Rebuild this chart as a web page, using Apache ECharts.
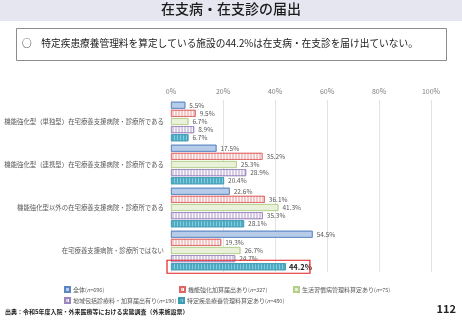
<!DOCTYPE html>
<html>
<head>
<meta charset="utf-8">
<script src="https://cdn.jsdelivr.net/npm/echarts@6/dist/echarts.min.js"></script>
<style>
  html, body { margin: 0; padding: 0; background: #fff; }
  #chart { width: 462px; height: 320px; }
</style>
</head>
<body>
<div id="chart"></div>
<script>
// カテゴリ（上から順）
const categories = [
  '機能強化型（単独型）在宅療養支援病院・診療所である',
  '機能強化型（連携型）在宅療養支援病院・診療所である',
  '機能強化型以外の在宅療養支援病院・診療所である',
  '在宅療養支援病院・診療所ではない'
]
const seriesNames = ['全体', '機能強化加算届出あり', '生活習慣病管理料算定あり', '地域包括診療料・加算届出有り', '特定疾患療養管理料算定あり']
const seriesN = [696, 327, 75, 190, 480]
const zentai = [5.5, 17.5, 22.6, 54.5]
const kinouKyouka = [9.5, 35.2, 36.1, 19.3]
const seikatsu = [6.7, 25.3, 41.3, 26.7]
const chiiki = [8.9, 28.9, 35.3, 24.7]
const tokutei = [6.7, 20.4, 28.1, 44.2]
const xTicks = [0, 20, 40, 60, 80, 100]

const fontFamily = '"Noto Sans CJK JP", sans-serif'
const chart = echarts.init(document.getElementById('chart'))

const fills = ['#9dbbe0', '#f4c9c9', '#e2ecce', '#d6cce4', '#4bacc6']
const borders = ['#5b87c4', '#e06666', '#b5cf8a', '#9a86bd', '#3f9ab3']
const decals = [
  { symbol: 'circle', symbolSize: 0.7, dashArrayX: [2, 0], dashArrayY: [2, 0], color: 'rgba(255,255,255,0.7)' },
  { symbol: 'rect', dashArrayX: [[1, 2]], dashArrayY: [10, 0], color: 'rgba(255,255,255,0.8)' },
  { symbol: 'circle', symbolSize: 0.7, dashArrayX: [2, 0], dashArrayY: [2, 0], color: 'rgba(255,255,255,0.7)' },
  { symbol: 'rect', dashArrayX: [[1, 2]], dashArrayY: [10, 0], color: 'rgba(255,255,255,0.8)' },
  { symbol: 'rect', dashArrayX: [[1, 2]], dashArrayY: [10, 0], color: 'rgba(255,255,255,0.35)' }
]
const allData = [zentai, kinouKyouka, seikatsu, chiiki, tokutei]

const barWidth = 7
const series = allData.map((d, i) => ({
  name: seriesNames[i],
  type: 'bar',
  barWidth: barWidth,
  barGap: '16%',
  data: d.map((v, j) => {
    const item = { value: v }
    if (i === 4 && j === 3) {
      item.label = { fontSize: 7.5, fontWeight: 'bold', color: '#222', distance: 3 }
    }
    return item
  }),
  itemStyle: { color: fills[i], borderColor: borders[i], borderWidth: 0.8, decal: decals[i] },
  label: {
    show: true,
    position: 'right',
    distance: 4,
    formatter: p => p.value.toFixed(1) + '%',
    fontSize: 6.5,
    color: '#595959',
    fontFamily: fontFamily
  }
}))

const legendText = name => {
  const i = seriesNames.indexOf(name)
  return name + '{p|(}{n|n}{p|=' + seriesN[i] + ')}'
}
const legendRich = {
  p: { fontSize: 5.5, color: '#595959', fontFamily: fontFamily },
  n: { fontSize: 5.5, color: '#595959', fontStyle: 'italic', fontFamily: fontFamily }
}
const legendBase = {
  orient: 'horizontal',
  icon: 'rect',
  itemWidth: 5,
  itemHeight: 5,
  itemGap: 6,
  selectedMode: false,
  formatter: legendText,
  textStyle: { fontSize: 6, color: '#595959', fontFamily: fontFamily, rich: legendRich, padding: [0, 0, 0, -2] }
}

const option = {
  animation: false,
  aria: { enabled: false, decal: { show: true } },
  textStyle: { fontFamily: fontFamily },
  grid: { left: 171, right: 31, top: 100, bottom: 48, containLabel: false, outerBoundsMode: 'none' },
  legend: [
    Object.assign({}, legendBase, { left: 59, top: 281, data: seriesNames.slice(0, 1) }),
    Object.assign({}, legendBase, { left: 174, top: 281, data: seriesNames.slice(1, 2) }),
    Object.assign({}, legendBase, { left: 288, top: 281, data: seriesNames.slice(2, 3) }),
    Object.assign({}, legendBase, { left: 59, top: 292, data: seriesNames.slice(3, 4) }),
    Object.assign({}, legendBase, { left: 173, top: 292, data: seriesNames.slice(4, 5) })
  ],
  xAxis: {
    type: 'value',
    position: 'top',
    min: xTicks[0],
    max: xTicks[xTicks.length - 1],
    interval: 20,
    axisLine: { show: false },
    axisTick: { show: false },
    axisLabel: { formatter: '{value}%', fontSize: 7, color: '#7f7f7f', margin: 5 },
    splitLine: { lineStyle: { color: '#e3e3e3', width: 1 } }
  },
  yAxis: {
    type: 'category',
    inverse: true,
    data: categories,
    axisLine: { show: false },
    axisTick: { show: false },
    axisLabel: { fontSize: 6.4, color: '#595959', margin: 7 }
  },
  series: series,
  graphic: [
    { type: 'rect', left: 0, top: 0, shape: { width: 462, height: 21 }, style: { fill: '#e6e6f0' } },
    { type: 'text', left: 'center', top: 2, style: { text: '在支病・在支診の届出', font: '500 14px ' + fontFamily, fill: '#1a1a1a' } },
    { type: 'rect', left: 16, top: 28, shape: { width: 430, height: 32 }, style: { fill: '#fff', stroke: '#8c8c8c', lineWidth: 1 } },
    { type: 'text', left: 22, top: 38, style: { text: '○　特定疾患療養管理料を算定している施設の44.2%は在支病・在支診を届け出ていない。', font: '9.7px ' + fontFamily, fill: '#1a1a1a' } },
    { type: 'text', left: 5, top: 309, style: { text: '出典：令和5年度入院・外来医療等における実態調査（外来施設票）', font: 'bold 6px ' + fontFamily, fill: '#222' } },
    { type: 'text', right: 6, top: 303, style: { text: '112', font: 'bold 11px ' + fontFamily, fill: '#222' } }
  ]
}
chart.setOption(option)

// 強調枠（特定疾患療養管理料算定あり・在宅療養支援病院・診療所ではない）
const cat = categories[3]
const centre = chart.convertToPixel({ gridIndex: 0 }, [0, cat])
const endPt = chart.convertToPixel({ gridIndex: 0 }, [tokutei[3], cat])
const step = barWidth * 1.16
const barY = centre[1] + 2 * step
chart.setOption({
  graphic: option.graphic.concat([{
    type: 'rect',
    z: 100,
    shape: { x: centre[0] - 4, y: barY - barWidth / 2 - 3, width: endPt[0] - centre[0] + 28, height: barWidth + 6 },
    style: { fill: 'none', stroke: '#e02020', lineWidth: 1.2 }
  }])
})
</script>
</body>
</html>
